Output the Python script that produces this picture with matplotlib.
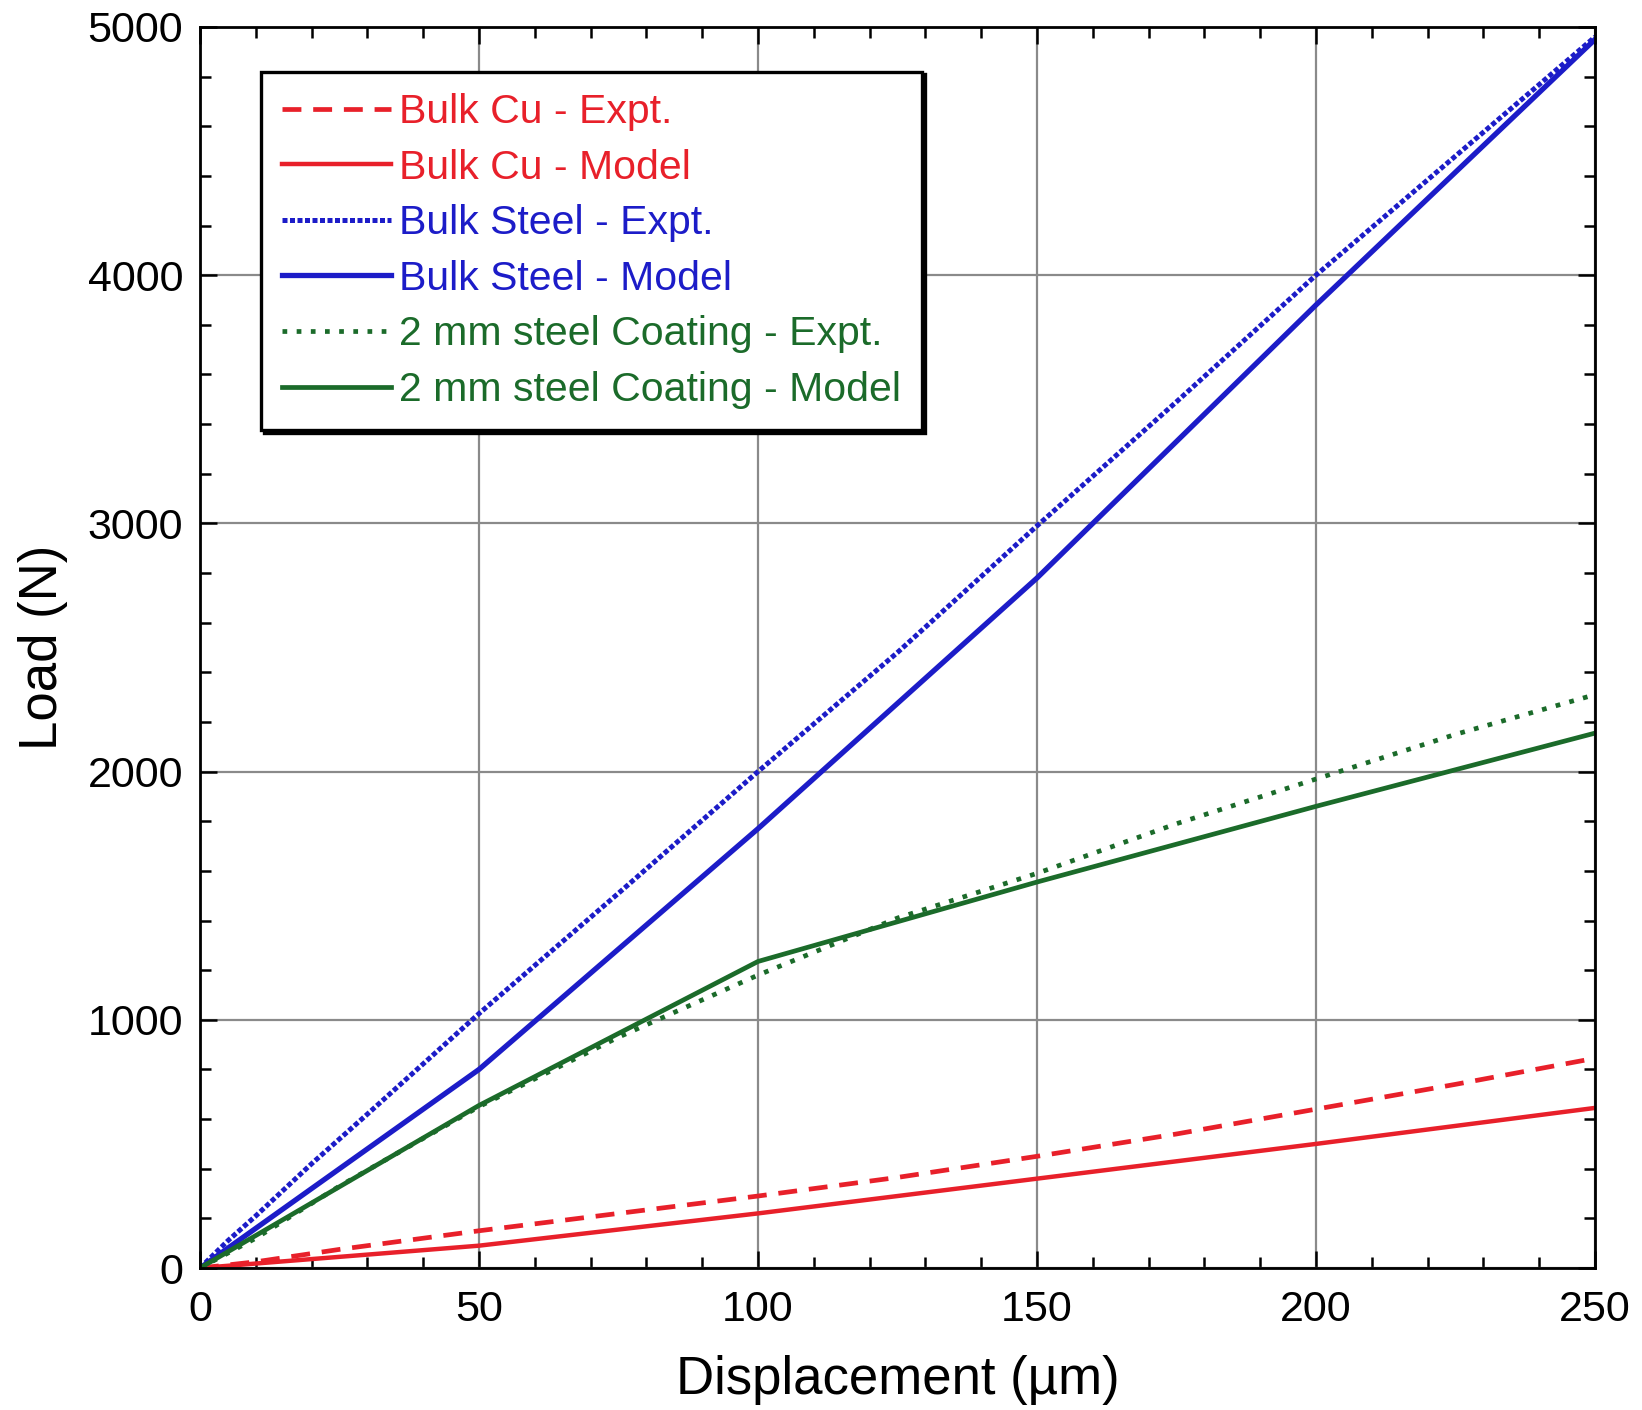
import matplotlib.pyplot as plt
from matplotlib.ticker import MultipleLocator

plt.rcParams['font.family'] = ['Liberation Sans', 'DejaVu Sans']

# values
cu_expt_x = [0, 10, 25, 50, 75, 100, 125, 150, 175, 200, 225, 250]
cu_expt_y = [0, 25, 75, 150, 220, 290, 365, 450, 540, 640, 740, 845]
cu_model_x = [0, 50, 100, 150, 200, 250]
cu_model_y = [0, 90, 220, 360, 500, 645]

steel_expt_x = [0, 5, 10, 20, 30, 50, 75, 100, 125, 150, 175, 200, 225, 250]
steel_expt_y = [0, 110, 210, 420, 620, 1025, 1510, 2000, 2480, 2990, 3490, 4000, 4480, 4960]
steel_model_x = [0, 50, 100, 150, 200, 250]
steel_model_y = [0, 800, 1770, 2780, 3880, 4950]

coat_expt_x = [0, 10, 25, 50, 75, 100, 125, 150, 175, 200, 225, 250]
coat_expt_y = [0, 120, 330, 650, 930, 1180, 1410, 1590, 1790, 1970, 2150, 2310]
coat_model_x = [0, 50, 100, 150, 200, 250]
coat_model_y = [0, 655, 1235, 1555, 1860, 2155]

red = '#e8202a'
blue = '#1c1cc8'
green = '#1b6b2a'

fig = plt.figure(figsize=(16.42, 14.10), dpi=100)
ax = fig.add_axes([0.1218, 0.1007, 0.8496, 0.8802])

ax.plot(cu_expt_x, cu_expt_y, color=red, lw=3.4, ls=(0, (4, 2.5)), label='Bulk Cu - Expt.')
ax.plot(cu_model_x, cu_model_y, color=red, lw=3.2, label='Bulk Cu - Model')
ax.plot(steel_expt_x, steel_expt_y, color=blue, lw=3.6, ls=(0, (1, 0.5)), label='Bulk Steel - Expt.')
ax.plot(steel_model_x, steel_model_y, color=blue, lw=3.8, label='Bulk Steel - Model')
ax.plot(coat_expt_x, coat_expt_y, color=green, lw=3.4, ls=(0, (1, 2.0)), label='2 mm steel Coating - Expt.')
ax.plot(coat_model_x, coat_model_y, color=green, lw=3.4, label='2 mm steel Coating - Model')

ax.set_xlim(0, 250)
ax.set_ylim(0, 5000)
ax.xaxis.set_major_locator(MultipleLocator(50))
ax.xaxis.set_minor_locator(MultipleLocator(10))
ax.yaxis.set_major_locator(MultipleLocator(1000))
ax.yaxis.set_minor_locator(MultipleLocator(200))
ax.grid(True, which='major', color='#8a8a8a', lw=1.6)
ax.tick_params(which='both', direction='in', top=True, right=True, width=1.8)
ax.tick_params(which='major', length=12, labelsize=31)
ax.tick_params(axis='x', which='major', pad=16)
ax.tick_params(axis='y', which='major', pad=12)
ax.tick_params(which='minor', length=8)
for s in ax.spines.values():
    s.set_linewidth(2)

ax.set_xlabel('Displacement (\u00b5m)', fontsize=38, labelpad=18)
ax.set_ylabel('Load (N)', fontsize=38, labelpad=14)

leg = ax.legend(loc='upper left', bbox_to_anchor=(0.0436, 0.964), borderaxespad=0,
                fontsize=29.5, labelcolor='linecolor', handlelength=2.65, handletextpad=0.2,
                labelspacing=0.43, borderpad=0.52, fancybox=False, framealpha=1,
                edgecolor='black', shadow={'color': 'black', 'alpha': 1})
leg.get_frame().set_linewidth(2.4)

fig.savefig('out.png', dpi=100)
